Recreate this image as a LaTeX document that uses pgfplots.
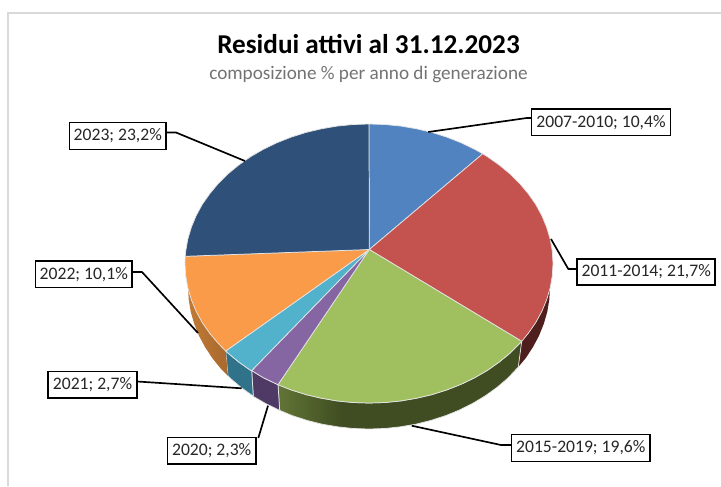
\documentclass[border=0pt]{standalone}
\usepackage{pgfplots}
\pgfplotsset{compat=1.18}
\usepackage{fontspec}
\setmainfont{Carlito}
\definecolor{cblue}{HTML}{5083C0}
\definecolor{cred}{HTML}{C4524F}
\definecolor{cgreen}{HTML}{A0BF5E}
\definecolor{cpurple}{HTML}{8566A3}
\definecolor{cteal}{HTML}{52B2CC}
\definecolor{corange}{HTML}{FA9B4A}
\definecolor{cnavy}{HTML}{2F5078}
\definecolor{sA}{HTML}{627536}
\definecolor{sB}{HTML}{404D22}
\definecolor{oA}{HTML}{C07A35}
\definecolor{oB}{HTML}{A8692E}
\definecolor{sRed}{HTML}{4F1F1D}
\definecolor{sPurple}{HTML}{4F3A66}
\definecolor{sTeal}{HTML}{30728A}
\definecolor{sep}{HTML}{E4E4E4}
\pgfdeclarehorizontalshading{greenside}{100bp}{color(0bp)=(sA); color(25bp)=(sA); color(38bp)=(sB); color(100bp)=(sB)}
\tikzset{lab/.style={draw=black,line width=1.2pt,fill=white,inner sep=0pt,text=black!85,font=\fontsize{13.2}{15}\selectfont},
 lead/.style={black,line width=1.25pt,no markers,line join=round},
 slice/.style={draw=sep,line width=0.55pt,line join=round,no markers}}
\begin{document}
\begin{tikzpicture}
\path[use as bounding box] (0,0) rectangle (540.75pt,364.5pt);
\begin{axis}[scale only axis,width=540.75pt,height=364.5pt,xmin=0,xmax=721,ymin=0,ymax=486,y dir=reverse,hide axis,clip=false,anchor=south west,at={(0,0)}]
% chart frame
\addplot[draw=black!15,line width=1.1pt,no markers] coordinates {(8,486) (8,13) (721,13)};
% side walls of the pie
\addplot[draw=none,no markers,fill=sRed] coordinates {(550.2,287.7)(546.7,299.6)(541.9,311.2)(535.8,322.5)(528.3,333.3)(521.7,341.3)(518.3,367)(525.8,358)(533,347)(539.1,335.6)(543.8,323.8)(547.3,311.7)(549.3,299.4)(550,287)} -- cycle;
\addplot[slice,shade,shading=greenside] coordinates {(521.7,341.3)(519.7,343.5)(509.9,353.2)(499.1,362.1)(487.3,370.4)(474.5,377.8)(461,384.3)(446.8,389.9)(431.9,394.6)(416.6,398.2)(400.9,400.9)(385,402.5)(369,403)(353,402.5)(337.1,400.9)(321.4,398.2)(306.1,394.6)(291.2,389.9)(278,384.7)(279.7,410.4)(292.5,415.7)(307.1,420.4)(322.2,424.2)(337.6,426.8)(353.2,428.5)(369,429)(384.8,428.5)(400.4,426.8)(415.8,424.2)(430.9,420.4)(445.5,415.7)(459.5,410)(472.8,403.3)(485.3,395.8)(497,387.4)(507.7,378.3)(518.3,367)} -- cycle;
\addplot[slice,fill=sPurple] coordinates {(278,384.7)(263.5,377.8)(251.7,370.6)(253.3,396.4)(265.2,403.3)(279.7,410.4)} -- cycle;
\addplot[slice,fill=sTeal] coordinates {(251.7,370.6)(250.7,370.4)(238.9,362.1)(228.1,353.2)(225.7,351)(228,376)(230.3,378.3)(241,387.4)(252.7,395.8)(253.3,396.4)} -- cycle;
\addplot[draw=none,no markers,left color=oA,right color=oB] coordinates {(225.7,351)(218.3,343.5)(209.7,333.3)(202.2,322.5)(196.1,311.2)(191.3,299.6)(187.8,287.7)(188,287)(188.7,299.4)(190.7,311.7)(194.2,323.8)(198.9,335.6)(205,347)(212.2,358)(220.7,368.5)(228,376)} -- cycle;
% top of the pie
\addplot[slice,fill=cblue] coordinates {(369.3,249.5)(369,124)(385,124.5)(400.9,126.1)(416.6,128.8)(431.9,132.4)(446.8,137.1)(461,142.7)(474.5,149.2)(482.7,153.8)} -- cycle;
\addplot[slice,fill=cred] coordinates {(369.3,249.5)(482.7,153.8)(487.3,156.6)(499.1,164.9)(509.9,173.8)(519.7,183.5)(528.3,193.8)(535.8,204.5)(541.9,215.8)(546.7,227.4)(550.2,239.3)(552.3,251.3)(553,263.5)(552.3,275.7)(550.2,287.7)(546.7,299.6)(541.9,311.2)(535.8,322.5)(528.3,333.3)(521.7,341.3)} -- cycle;
\addplot[slice,fill=cgreen] coordinates {(369.3,249.5)(521.7,341.3)(519.7,343.5)(509.9,353.2)(499.1,362.1)(487.3,370.4)(474.5,377.8)(461,384.3)(446.8,389.9)(431.9,394.6)(416.6,398.2)(400.9,400.9)(385,402.5)(369,403)(353,402.5)(337.1,400.9)(321.4,398.2)(306.1,394.6)(291.2,389.9)(278,384.7)} -- cycle;
\addplot[slice,fill=cpurple] coordinates {(369.3,249.5)(278,384.7)(263.5,377.8)(251.7,370.6)} -- cycle;
\addplot[slice,fill=cteal] coordinates {(369.3,249.5)(251.7,370.6)(250.7,370.4)(238.9,362.1)(228.1,353.2)(225.7,351)} -- cycle;
\addplot[slice,fill=corange] coordinates {(369.3,249.5)(225.7,351)(218.3,343.5)(209.7,333.3)(202.2,322.5)(196.1,311.2)(191.3,299.6)(187.8,287.7)(185.7,275.7)(185,263.5)(185.2,256.3)} -- cycle;
\addplot[slice,fill=cnavy] coordinates {(369.3,249.5)(185.2,256.3)(185.7,251.3)(187.8,239.3)(191.3,227.4)(196.1,215.8)(202.2,204.5)(209.7,193.8)(218.3,183.5)(228.1,173.8)(238.9,164.9)(250.7,156.6)(263.5,149.2)(277,142.7)(291.2,137.1)(306.1,132.4)(321.4,128.8)(337.1,126.1)(353,124.5)(369,124)} -- cycle;
% leader lines
\addplot[lead] coordinates {(428.3,132)(526.7,118)(531,118)};
\addplot[lead] coordinates {(551,239)(568.3,269)(577,269)};
\addplot[lead] coordinates {(411.7,425.7)(501,445)(511,445)};
\addplot[lead] coordinates {(268,405.7)(258.3,438)};
\addplot[lead] coordinates {(241.7,388.3)(137.3,381.5)};
\addplot[lead] coordinates {(198,333)(142,272)(132.7,272)};
\addplot[lead] coordinates {(245,161)(176,132.5)(166.7,132.5)};
% titles
\node[anchor=base,font=\fontsize{20.4}{22}\selectfont\bfseries,text=black] at (axis cs:368.5,53.5) {Residui attivi al 31.12.2023};
\node[anchor=base,font=\fontsize{14.4}{16}\selectfont,text=black!55] at (axis cs:368.5,79) {composizione \% per anno di generazione};
% data labels
\node[lab,minimum width=104pt,minimum height=20pt] at (axis cs:601,122.2) {2007-2010; 10,4\%};
\node[lab,minimum width=103.5pt,minimum height=19.5pt] at (axis cs:646.2,272) {2011-2014; 21,7\%};
\node[lab,minimum width=104pt,minimum height=20pt] at (axis cs:580.8,448) {2015-2019; 19,6\%};
\node[lab,minimum width=66.5pt,minimum height=19.7pt] at (axis cs:211.7,450.8) {2020; 2,3\%};
\node[lab,minimum width=66.5pt,minimum height=19.7pt] at (axis cs:92.5,384.8) {2021; 2,7\%};
\node[lab,minimum width=72.5pt,minimum height=19.7pt] at (axis cs:83.8,274.2) {2022; 10,1\%};
\node[lab,minimum width=72.5pt,minimum height=20pt] at (axis cs:117.8,136) {2023; 23,2\%};
\end{axis}
\end{tikzpicture}
\end{document}
